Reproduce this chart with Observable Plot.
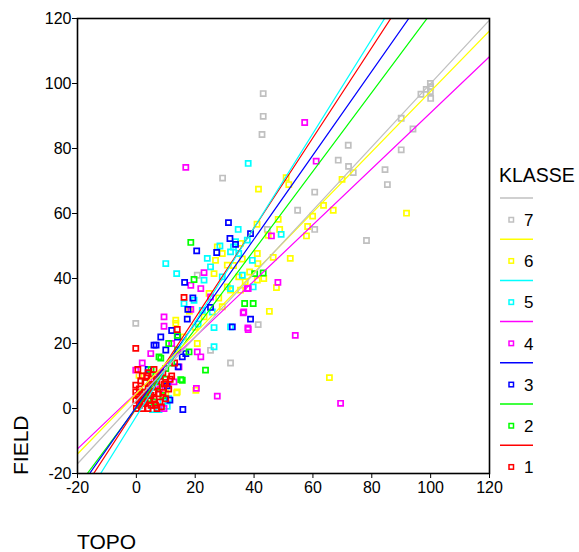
<!DOCTYPE html>
<html>
<head>
<meta charset="utf-8">
<script src="https://cdn.jsdelivr.net/npm/d3@7"></script>
<script src="https://cdn.jsdelivr.net/npm/@observablehq/plot@0.6"></script>
<style>
  html, body { margin: 0; padding: 0; background: #fff; overflow: hidden; }
  #chart { width: 579px; height: 552px; }
</style>
</head>
<body>
<div id="chart"></div>
<script>
// ---- data ----
const classes = [1, 2, 3, 4, 5, 6, 7];
const classColors = ["#ff0000", "#00ff00", "#0000ff", "#ff00ff", "#00ffff", "#ffff00", "#c0c0c0"];
const fitSlopes = [1.387, 1.213, 1.291, 0.862, 1.451, 0.930, 0.975];
const fitIntercepts = [0.1, 0.2, 0.5, 4.8, -2.4, 4.6, 2.5];
const axisTicks = [-20, 0, 20, 40, 60, 80, 100, 120];

// [TOPO, FIELD]
const klasse7 = [[43.1,96.9],[43.1,89.9],[42.7,84.3],[29.3,70.9],[72.0,81.0],[68.6,76.4],[72.1,74.5],[73.7,72.6],[60.6,66.6],[90.0,89.3],[94.0,86.0],[90.0,79.6],[84.5,73.5],[85.3,68.9],[99.9,100.0],[98.5,98.2],[96.7,96.7],[100.0,95.4],[99.9,97.5],[100.0,99.0],[54.8,61.0],[60.6,55.1],[78.2,51.7],[44.5,55.1],[41.4,25.8],[32.0,14.0],[20.7,41.0],[-0.2,26.2],[25.2,17.9]];
const klasse6 = [[41.5,67.5],[91.8,60.1],[63.6,62.5],[66.9,61.0],[59.9,59.2],[58.2,56.0],[57.8,53.1],[52.3,46.2],[46.5,46.5],[48.2,58.2],[48.7,55.1],[41.0,56.7],[45.2,29.9],[65.6,9.5],[47.6,37.2],[43.3,40.0],[41.3,44.6],[35.4,50.8],[50.9,71.0],[51.8,68.9],[69.9,70.5],[44.8,53.3],[41.1,47.7],[27.5,49.7],[29.2,47.7],[26.9,45.6],[26.4,41.5],[30.9,44.1],[34.8,40.5],[30.9,37.4],[32.0,36.4],[35.4,36.4],[29.2,31.3],[24.7,35.4],[23.0,28.2],[13.4,27.2],[41.1,39.5],[20.7,20.0],[20.2,5.6],[13.9,5.1],[0.9,10.2],[13.4,26.2],[10.0,4.8],[13.7,4.8],[38.5,42.0],[36.0,46.0],[33.0,44.0],[37.0,39.0],[28.0,34.0],[20.0,25.0],[16.0,22.0],[18.0,30.0]];
const klasse5 = [[38.0,75.4],[49.2,53.6],[39.4,45.6],[37.7,51.8],[34.6,55.1],[33.7,51.3],[32.0,48.2],[32.0,36.9],[39.7,37.4],[28.4,50.0],[33.0,49.7],[10.0,44.6],[13.7,41.5],[24.1,46.2],[25.2,43.6],[34.8,47.7],[23.0,39.5],[29.2,40.5],[19.6,33.3],[22.4,30.2],[25.8,29.7],[32.0,25.1],[16.2,32.3],[26.4,24.9],[26.4,19.0],[7.7,0.0],[5.5,-0.3],[7.7,-0.3],[10.5,0.7],[9.0,2.0],[6.0,1.0],[11.0,3.0],[21.0,26.0],[36.0,41.0]];
const klasse4 = [[16.8,74.2],[57.2,88.0],[61.1,76.1],[45.9,53.1],[48.1,38.8],[38.0,36.9],[36.3,29.4],[38.0,24.3],[54.0,22.5],[69.4,1.6],[23.0,41.8],[18.5,37.9],[21.9,36.9],[37.7,36.9],[25.2,34.3],[9.4,28.2],[9.4,25.3],[36.5,29.7],[37.9,24.8],[18.5,30.5],[4.9,16.9],[-0.2,11.8],[20.4,6.2],[27.5,3.8],[9.4,0.0],[12.8,8.2],[21.9,15.9],[20.7,17.4],[14.5,12.8],[3.0,4.0],[6.0,9.0],[12.0,20.0],[2.0,14.0],[8.0,6.0]];
const klasse3 = [[31.3,57.2],[31.8,52.3],[33.7,50.5],[27.3,48.0],[20.5,48.5],[16.4,38.8],[19.2,34.0],[17.5,30.5],[32.6,25.1],[8.3,22.0],[6.7,19.5],[38.8,53.8],[17.3,27.5],[25.2,31.1],[38.8,27.5],[11.4,2.6],[15.8,-0.3],[10.5,7.0],[15.6,15.9],[16.8,16.9],[14.2,12.8],[6.0,19.5],[12.0,24.0],[10.0,18.0],[4.0,12.0],[8.0,10.0],[14.0,22.0]];
const klasse2 = [[18.5,51.1],[40.2,41.5],[43.1,41.7],[36.8,32.3],[39.7,32.3],[19.6,39.7],[7.7,15.9],[15.6,8.7],[10.0,12.3],[23.5,11.8],[7.2,6.6],[13.9,22.5],[15.1,8.9],[6.6,10.2],[8.3,15.5],[17.9,17.4],[4.0,3.0],[3.0,8.0],[5.0,12.0],[9.0,4.0],[12.0,14.0],[11.0,20.0],[6.0,2.0],[2.0,5.0],[14.0,18.0],[10.0,9.0]];
const klasse1 = [[-0.2,18.5],[16.2,34.2],[13.9,24.3],[-0.2,7.2],[-0.2,5.1],[-0.2,2.6],[0.0,0.0],[1.0,1.0],[2.0,0.0],[3.0,2.0],[4.0,0.0],[5.0,1.0],[6.0,3.0],[7.0,0.0],[8.0,2.0],[2.0,4.0],[4.0,6.0],[6.0,5.0],[3.0,8.0],[5.0,9.0],[7.0,7.0],[9.0,5.0],[10.0,8.0],[8.0,10.0],[1.0,6.0],[2.0,10.0],[4.0,11.0],[6.0,12.0],[9.0,11.0],[1.0,3.0],[3.0,5.0],[5.0,4.0],[7.0,9.0],[10.0,3.0],[12.0,10.0],[0.5,12.0],[11.0,6.0],[13.0,14.0],[2.5,1.5],[4.5,2.5],[6.5,1.0],[8.5,0.5],[1.5,8.5],[3.5,10.0],[5.5,7.0],[7.5,4.5],[9.5,7.5],[2.0,2.0],[0.5,4.0],[11.5,9.0]];

// ---- build tables ----
const byClass = {1: klasse1, 2: klasse2, 3: klasse3, 4: klasse4, 5: klasse5, 6: klasse6, 7: klasse7};
const points = [];
for (const k of [7, 6, 5, 4, 3, 2, 1]) {
  for (const [topo, field] of byClass[k]) points.push({topo, field, klasse: k});
}
const fitRows = [];
classes.forEach((k, i) => {
  for (const x of [axisTicks[0], axisTicks[axisTicks.length - 1]]) {
    fitRows.push({x, y: fitIntercepts[i] + fitSlopes[i] * x, klasse: k});
  }
});

const font = "'Liberation Sans', Arial, sans-serif";

const chart = Plot.plot({
  width: 579,
  height: 552,
  marginLeft: 77,
  marginRight: 90,
  marginTop: 18,
  marginBottom: 79,
  style: {fontFamily: font, fontSize: "16px", background: "#fff", color: "#000", overflow: "hidden"},
  x: {domain: [-20, 120], ticks: axisTicks, tickFormat: d => String(d), label: null, tickSize: 5, tickPadding: 3},
  y: {domain: [-20, 120], ticks: axisTicks, tickFormat: d => String(d), label: null, tickSize: 5, tickPadding: 1},
  color: {type: "ordinal", domain: classes, range: classColors},
  marks: [
    Plot.dot(points, {x: "topo", y: "field", stroke: "klasse", symbol: "square", r: 2.9, strokeWidth: 1.7, fill: "none"}),
    Plot.line(fitRows, {x: "x", y: "y", z: "klasse", stroke: "klasse", strokeWidth: 1.2, clip: true}),
    Plot.frame({stroke: "#000", strokeWidth: 1.6})
  ]
});

document.getElementById("chart").appendChild(chart);

// axis titles and legend
const svg = d3.select(chart);
svg.append("text")
  .attr("transform", "translate(28,475) rotate(-90)")
  .attr("text-anchor", "start")
  .attr("font-family", font).attr("font-size", 21).attr("fill", "#000")
  .text("FIELD");
svg.append("text")
  .attr("x", 77).attr("y", 549)
  .attr("text-anchor", "start")
  .attr("font-family", font).attr("font-size", 21).attr("fill", "#000")
  .text("TOPO");

const lg = svg.append("g").attr("font-family", font).attr("text-anchor", "start");
lg.append("text").attr("x", 499).attr("y", 182).attr("font-size", 19.5).attr("fill", "#000").text("KLASSE");
const legendOrder = [7, 6, 5, 4, 3, 2, 1];
legendOrder.forEach((k, i) => {
  const c = classColors[classes.indexOf(k)];
  const y0 = 198 + i * 41.2;
  lg.append("line").attr("x1", 500).attr("x2", 533).attr("y1", y0).attr("y2", y0)
    .attr("stroke", c).attr("stroke-width", 1.5);
  lg.append("rect").attr("x", 509).attr("y", y0 + 19.5).attr("width", 4.5).attr("height", 4.5)
    .attr("fill", "none").attr("stroke", c).attr("stroke-width", 1.5);
  lg.append("text").attr("x", 524).attr("y", y0 + 28).attr("font-size", 17).attr("fill", "#000").text(String(k));
});
</script>
</body>
</html>
